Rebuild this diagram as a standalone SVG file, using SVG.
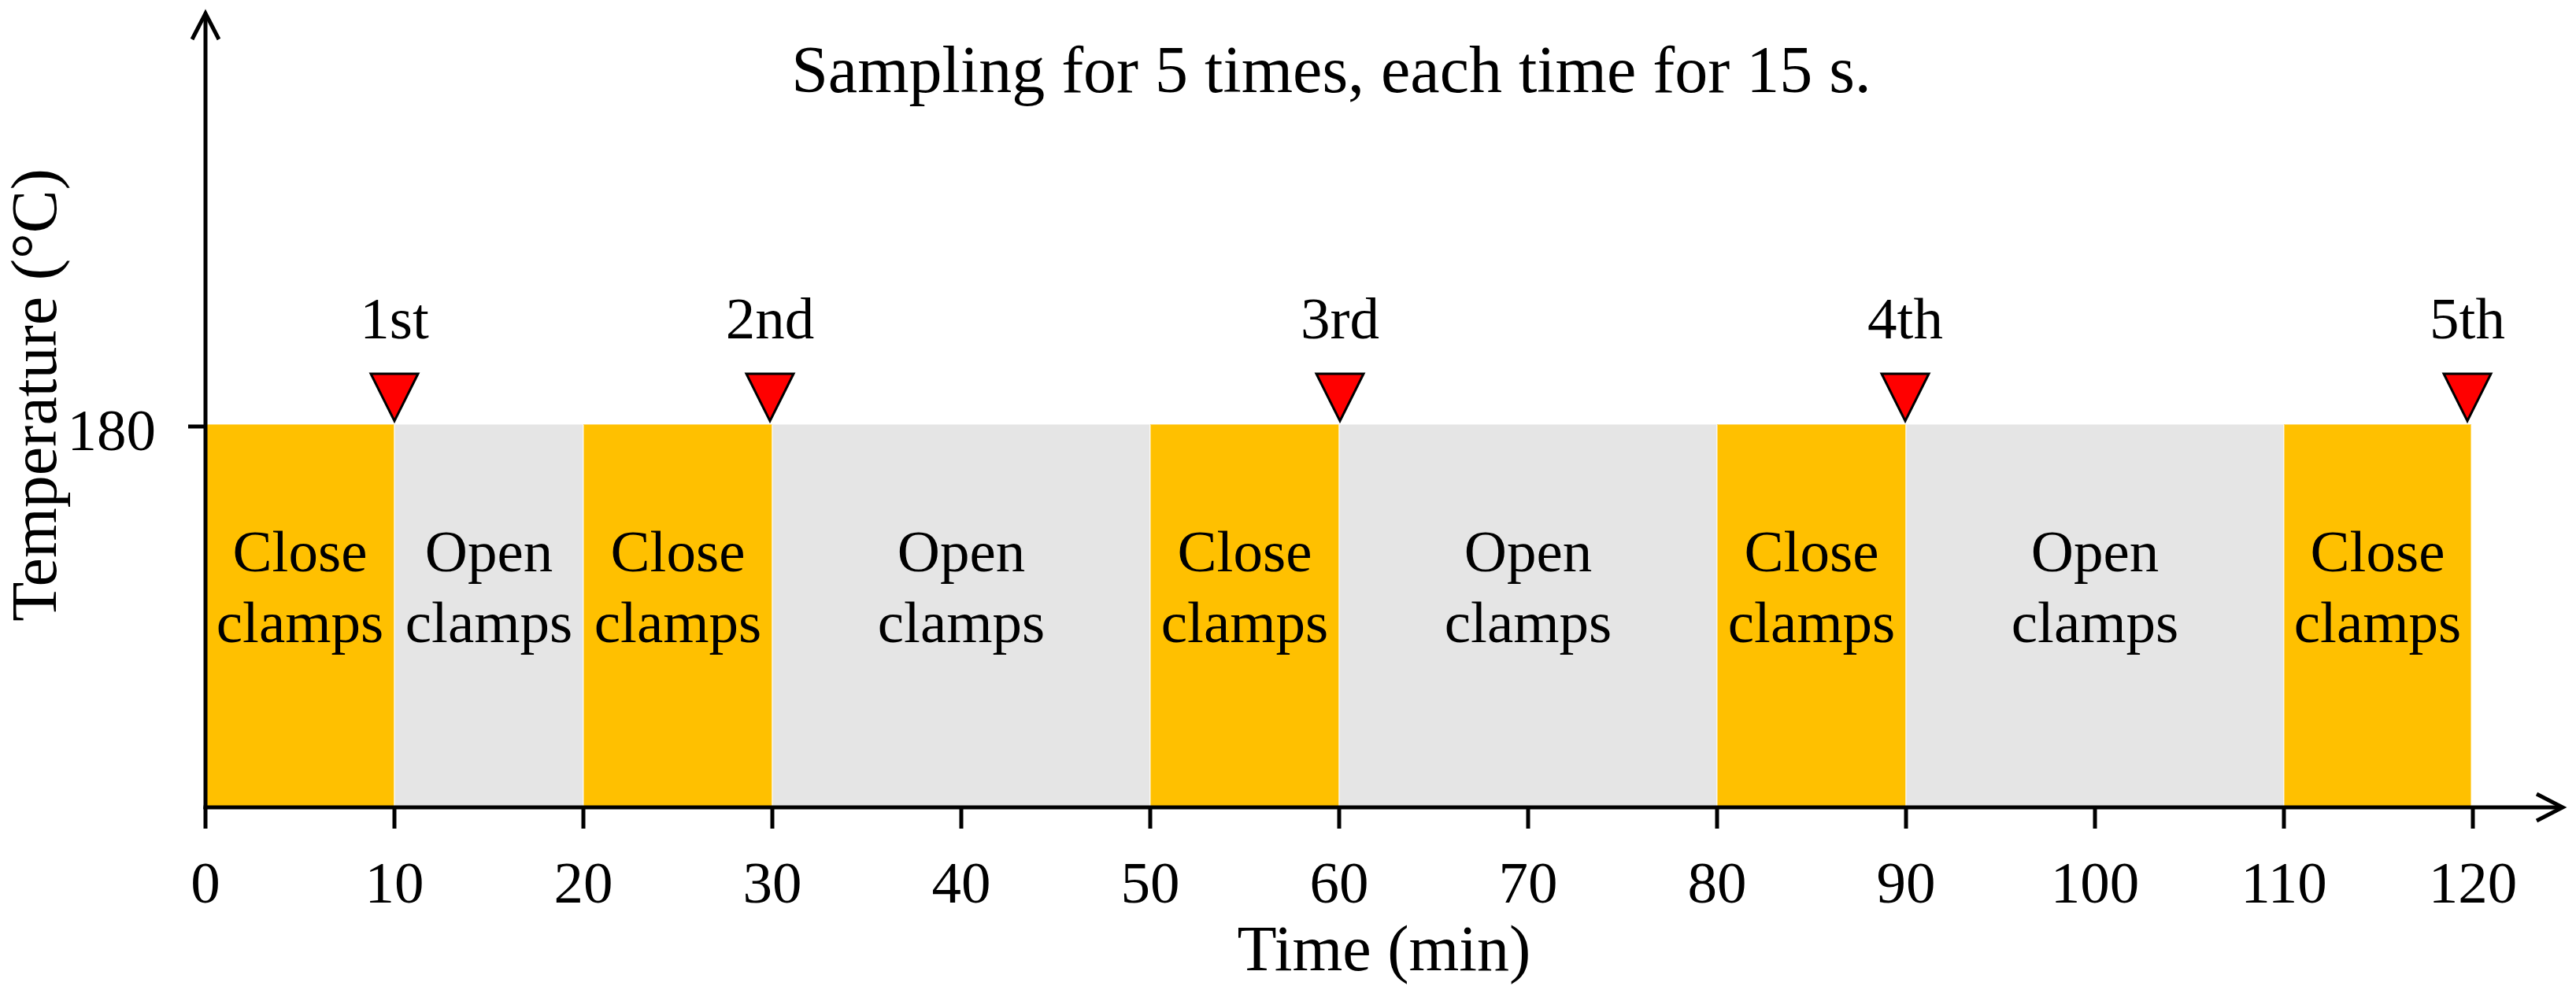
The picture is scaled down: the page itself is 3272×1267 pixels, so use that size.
<svg xmlns="http://www.w3.org/2000/svg" width="3272" height="1267" viewBox="0 0 3272 1267">
  <style>
    text { font-family: "Liberation Serif", "Times New Roman", serif; fill: #000; }
    .lbl { font-size: 75px; text-anchor: middle; }
    .tick { font-size: 75px; text-anchor: middle; }
    .head { font-size: 84px; text-anchor: middle; }
    .axlbl { font-size: 82px; text-anchor: middle; }
    .close { fill: #FFC000; }
    .open { fill: #E5E5E5; }
    .seg { stroke: #ffffff; stroke-opacity: 0.45; stroke-width: 2; }
    .tri { fill: #FF0000; stroke: #000; stroke-width: 3; stroke-linejoin: miter; }
    .ax { stroke: #000; stroke-width: 5; fill: none; }
    .tk { stroke: #000; stroke-width: 5; }
  </style>
  <defs>
    <marker id="arrow" markerUnits="userSpaceOnUse" viewBox="-40 -22 46 44" markerWidth="46" markerHeight="44" refX="0" refY="0" orient="auto">
      <path d="M-33,-17 L0,0 L-33,17" fill="none" stroke="#000" stroke-width="5"/>
    </marker>
  </defs>

  <g id="heading">
    <text class="head" x="1691" y="117" font-family="'Liberation Serif', 'Times New Roman', serif">Sampling for 5 times, each time for 15 s.</text>
  </g>

  <g id="seg1"><rect class="close seg" x="261" y="539" width="240" height="489"/><text class="lbl" x="381" y="726">Close</text><text class="lbl" x="381" y="816">clamps</text></g>
  <g id="seg2"><rect class="open seg" x="501" y="539" width="240" height="489"/><text class="lbl" x="621" y="726">Open</text><text class="lbl" x="621" y="816">clamps</text></g>
  <g id="seg3"><rect class="close seg" x="741" y="539" width="240" height="489"/><text class="lbl" x="861" y="726">Close</text><text class="lbl" x="861" y="816">clamps</text></g>
  <g id="seg4"><rect class="open seg" x="981" y="539" width="480" height="489"/><text class="lbl" x="1221" y="726">Open</text><text class="lbl" x="1221" y="816">clamps</text></g>
  <g id="seg5"><rect class="close seg" x="1461" y="539" width="240" height="489"/><text class="lbl" x="1581" y="726">Close</text><text class="lbl" x="1581" y="816">clamps</text></g>
  <g id="seg6"><rect class="open seg" x="1701" y="539" width="480" height="489"/><text class="lbl" x="1941" y="726">Open</text><text class="lbl" x="1941" y="816">clamps</text></g>
  <g id="seg7"><rect class="close seg" x="2181" y="539" width="240" height="489"/><text class="lbl" x="2301" y="726">Close</text><text class="lbl" x="2301" y="816">clamps</text></g>
  <g id="seg8"><rect class="open seg" x="2421" y="539" width="480" height="489"/><text class="lbl" x="2661" y="726">Open</text><text class="lbl" x="2661" y="816">clamps</text></g>
  <g id="seg9"><rect class="close seg" x="2901" y="539" width="238" height="489"/><text class="lbl" x="3020" y="726">Close</text><text class="lbl" x="3020" y="816">clamps</text></g>

  <g id="sample1"><polygon class="tri" points="471,475 531,475 501,535"/><text class="lbl" x="501" y="430">1st</text></g>
  <g id="sample2"><polygon class="tri" points="948,475 1008,475 978,535"/><text class="lbl" x="978" y="430">2nd</text></g>
  <g id="sample3"><polygon class="tri" points="1672,475 1732,475 1702,535"/><text class="lbl" x="1702" y="430">3rd</text></g>
  <g id="sample4"><polygon class="tri" points="2390,475 2450,475 2420,535"/><text class="lbl" x="2420" y="430">4th</text></g>
  <g id="sample5"><polygon class="tri" points="3104,475 3164,475 3134,535"/><text class="lbl" x="3134" y="430">5th</text></g>

  <g id="axes">
    <line class="ax" x1="261" y1="1028" x2="261" y2="17" marker-end="url(#arrow)"/>
    <line class="ax" x1="258.5" y1="1026" x2="3255" y2="1026" marker-end="url(#arrow)"/>
    <line class="tk" x1="239" y1="542" x2="261" y2="542"/>
    <g class="tk">
      <line x1="261" y1="1026" x2="261" y2="1053"/>
      <line x1="501" y1="1026" x2="501" y2="1053"/>
      <line x1="741" y1="1026" x2="741" y2="1053"/>
      <line x1="981" y1="1026" x2="981" y2="1053"/>
      <line x1="1221" y1="1026" x2="1221" y2="1053"/>
      <line x1="1461" y1="1026" x2="1461" y2="1053"/>
      <line x1="1701" y1="1026" x2="1701" y2="1053"/>
      <line x1="1941" y1="1026" x2="1941" y2="1053"/>
      <line x1="2181" y1="1026" x2="2181" y2="1053"/>
      <line x1="2421" y1="1026" x2="2421" y2="1053"/>
      <line x1="2661" y1="1026" x2="2661" y2="1053"/>
      <line x1="2901" y1="1026" x2="2901" y2="1053"/>
      <line x1="3141" y1="1026" x2="3141" y2="1053"/>
    </g>
    <text x="198" y="572" style="font-size:75px" text-anchor="end">180</text>
    <g class="tick">
      <text x="261" y="1147">0</text>
      <text x="501" y="1147">10</text>
      <text x="741" y="1147">20</text>
      <text x="981" y="1147">30</text>
      <text x="1221" y="1147">40</text>
      <text x="1461" y="1147">50</text>
      <text x="1701" y="1147">60</text>
      <text x="1941" y="1147">70</text>
      <text x="2181" y="1147">80</text>
      <text x="2421" y="1147">90</text>
      <text x="2661" y="1147">100</text>
      <text x="2901" y="1147">110</text>
      <text x="3141" y="1147">120</text>
    </g>
    <text class="axlbl" x="1758" y="1233">Time (min)</text>
    <text class="axlbl" transform="translate(71,502) rotate(-90)">Temperature (°C)</text>
  </g>
</svg>
